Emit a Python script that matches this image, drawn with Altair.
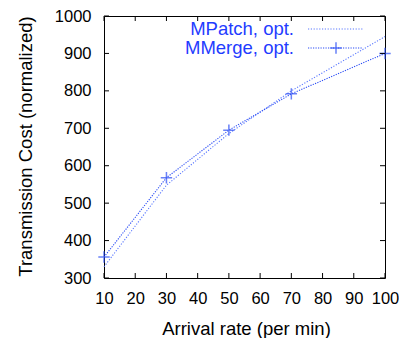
import altair as alt
import pandas as pd

rate = [10, 30, 50, 70, 100]
mpatch = [330, 548, 686, 800, 945]
mmerge = [356, 568, 695, 792, 900]
x_ticks = [10, 20, 30, 40, 50, 60, 70, 80, 90, 100]
y_ticks = [300, 400, 500, 600, 700, 800, 900, 1000]
series_names = ["MPatch, opt.", "MMerge, opt."]

W, H = 281, 262
TOP = 8
FONT = "Liberation Sans"
BLUE_TEXT = "#1f3cff"
C_PATCH = "#5a78ff"
C_MERGE = "#2a4cf5"

df = pd.DataFrame({"rate": rate, "mpatch": mpatch, "mmerge": mmerge})
xt = pd.DataFrame({"rate": x_ticks})
yt = pd.DataFrame({"cost": y_ticks})

xs = alt.Scale(domain=[10, 100], nice=False, zero=False)
ys = alt.Scale(domain=[300, 1000], nice=False, zero=False)

x_axis = alt.Axis(values=x_ticks, ticks=False, domain=False, grid=False, format="d",
                  labelOverlap=False, labelFlush=False, labelBound=False,
                  labelFont=FONT, labelFontSize=16.5, labelColor="black", labelPadding=12,
                  title="Arrival rate (per min)", titleFont=FONT, titleFontSize=18.5,
                  titleFontWeight="normal", titleColor="black",
                  titleX=142, titleY=50, titleBaseline="middle", titleAlign="center")
y_axis = alt.Axis(values=y_ticks, ticks=False, domain=False, grid=False, format="d",
                  labelOverlap=False, labelFlush=False, labelBound=False,
                  labelFont=FONT, labelFontSize=16.5, labelColor="black", labelPadding=13,
                  title="Transmission Cost (normalized)", titleFont=FONT, titleFontSize=18.5,
                  titleFontWeight="normal", titleColor="black",
                  titleX=-79, titleY=130, titleBaseline="middle", titleAlign="center", titleAngle=-90)

X = alt.X("rate:Q", scale=xs, axis=x_axis, title="Arrival rate (per min)")

patch_line = alt.Chart(df).mark_line(color=C_PATCH, strokeWidth=1.1, strokeDash=[1.2, 1.6]).encode(
    x=X,
    y=alt.Y("mpatch:Q", scale=ys, axis=y_axis, title="Transmission Cost (normalized)"),
)
merge_line = alt.Chart(df).mark_line(color=C_MERGE, strokeWidth=1.1, strokeDash=[1.2, 1.3]).encode(
    x=X,
    y=alt.Y("mmerge:Q", scale=ys, axis=y_axis, title="Transmission Cost (normalized)"),
)
plus = "M-1,0L1,0M0,-1L0,1"
merge_pts = alt.Chart(df).mark_point(shape=plus, filled=False, stroke=C_MERGE, strokeWidth=1.5, size=130).encode(
    x=X,
    y=alt.Y("mmerge:Q", scale=ys, axis=y_axis, title="Transmission Cost (normalized)"),
)

tlen = 5
Yt = alt.Y("cost:Q", scale=ys, axis=y_axis, title="Transmission Cost (normalized)")
ticks_b = alt.Chart(xt).mark_rule(color="black", strokeWidth=1).encode(
    x=X, y=alt.value(H), y2=alt.value(H - tlen))
ticks_t = alt.Chart(xt).mark_rule(color="black", strokeWidth=1).encode(
    x=X, y=alt.value(0), y2=alt.value(tlen))
ticks_l = alt.Chart(yt).mark_rule(color="black", strokeWidth=1).encode(
    y=Yt, x=alt.value(0), x2=alt.value(tlen))
ticks_r = alt.Chart(yt).mark_rule(color="black", strokeWidth=1).encode(
    y=Yt, x=alt.value(W), x2=alt.value(W - tlen))

leg = pd.DataFrame({"label": series_names})
leg_patch_txt = alt.Chart(leg.iloc[[0]]).mark_text(
    font=FONT, fontSize=18.5, color=BLUE_TEXT, align="right", baseline="middle").encode(
    text="label:N", x=alt.value(190), y=alt.value(13))
leg_merge_txt = alt.Chart(leg.iloc[[1]]).mark_text(
    font=FONT, fontSize=18.5, color=BLUE_TEXT, align="right", baseline="middle").encode(
    text="label:N", x=alt.value(190), y=alt.value(32))
leg_patch_line = alt.Chart(leg.iloc[[0]]).mark_rule(color=C_PATCH, strokeWidth=1.1, strokeDash=[1.2, 1.6]).encode(
    x=alt.value(204), x2=alt.value(259), y=alt.value(13))
leg_merge_line = alt.Chart(leg.iloc[[1]]).mark_rule(color=C_MERGE, strokeWidth=1.1, strokeDash=[1.2, 1.3]).encode(
    x=alt.value(204), x2=alt.value(259), y=alt.value(32))
leg_merge_pt = alt.Chart(leg.iloc[[1]]).mark_point(shape=plus, filled=False, stroke=C_MERGE, strokeWidth=1.5, size=130).encode(
    x=alt.value(232), y=alt.value(32))

chart = alt.layer(
    patch_line, merge_line, merge_pts,
    ticks_b, ticks_t, ticks_l, ticks_r,
    leg_patch_txt, leg_merge_txt, leg_patch_line, leg_merge_line, leg_merge_pt,
).properties(
    width=W, height=H,
    autosize=alt.AutoSizeParams(type="none"),
    padding={"left": 96, "top": TOP, "right": 14, "bottom": 60},
    background="white",
).configure_view(stroke="black", strokeWidth=1).configure_axis(
    labelOverlap=False, labelFlush=False, labelBound=False)

chart.save("out.html", embed_options={"renderer": "svg", "actions": False})
